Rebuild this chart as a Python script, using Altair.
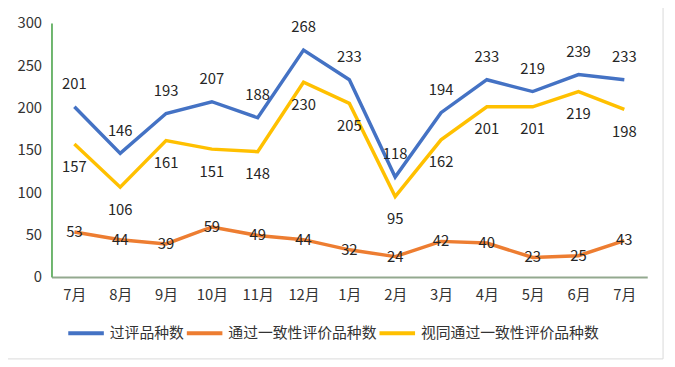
import altair as alt
import pandas as pd

months = ["7月", "8月", "9月", "10月", "11月", "12月", "1月", "2月", "3月", "4月", "5月", "6月", "7月"]
series_names = ["过评品种数", "通过一致性评价品种数", "视同通过一致性评价品种数"]
passed_total = [201, 146, 193, 207, 188, 268, 233, 118, 194, 233, 219, 239, 233]
passed_consistency = [53, 44, 39, 59, 49, 44, 32, 24, 42, 40, 23, 25, 43]
deemed_passed = [157, 106, 161, 151, 148, 230, 205, 95, 162, 201, 201, 219, 198]
colors = ["#4472C4", "#ED7D31", "#FFC000"]

rows = []
for name, vals in zip(series_names, [passed_total, passed_consistency, deemed_passed]):
    for i, v in enumerate(vals):
        rows.append({"idx": i, "series": name, "value": v})
df = pd.DataFrame(rows)

FONT = "Noto Sans CJK SC"
label_expr = "[" + ",".join("'" + m + "'" for m in months) + "][datum.value]"

x_enc = alt.X("idx:O", scale=alt.Scale(type="point", padding=0.5),
              axis=alt.Axis(title=None, labelExpr=label_expr, labelAngle=0, ticks=False, tickSize=0,
                            labelPadding=11, labelFontSize=15, labelFont=FONT, labelColor="#333333",
                            domainColor="#93A98F", domainWidth=2))
y_enc = alt.Y("value:Q", scale=alt.Scale(domain=[0, 300], nice=False),
              axis=alt.Axis(title=None, values=[0, 50, 100, 150, 200, 250, 300], grid=False, ticks=False,
                            tickSize=0, labelPadding=10, labelFontSize=15, labelFont=FONT,
                            labelColor="#333333", domainColor="#6DB56D", domainWidth=2))

color_enc = alt.Color("series:N",
                      scale=alt.Scale(domain=series_names, range=colors),
                      legend=alt.Legend(title=None, orient="none", legendX=15, legendY=294,
                                        direction="horizontal", symbolType="stroke", symbolSize=1296,
                                        symbolStrokeWidth=4, labelFontSize=15, labelFont=FONT,
                                        labelColor="#333333", labelOffset=4, columnPadding=-7,
                                        labelLimit=0))

base = alt.Chart(df)
lines = base.mark_line(strokeWidth=3.5).encode(x=x_enc, y=y_enc, color=color_enc,
                                              order=alt.Order("idx:O"))

def labels(name, dy):
    return base.transform_filter(alt.datum.series == name).mark_text(
        dy=dy, fontSize=15, font=FONT, color="#262626", baseline="middle"
    ).encode(x=alt.X("idx:O"), y=alt.Y("value:Q"), text=alt.Text("value:Q"))

border = alt.Chart(pd.DataFrame({"a": [0]})).mark_rect(
    filled=False, stroke="#D9D9D9", strokeWidth=1
).encode(x=alt.value(-49), x2=alt.value(619), y=alt.value(-19), y2=alt.value(340))

chart = alt.layer(
    border,
    lines,
    labels(series_names[0], -23),
    labels(series_names[1], 0),
    labels(series_names[2], 23),
).properties(
    width=603, height=257,
    autosize=alt.AutoSizeParams(type="none"),
    padding={"left": 44, "top": 13, "right": 20, "bottom": 89},
).configure_view(stroke=None)

chart.save("out.html", embed_options={"renderer": "svg", "actions": False})
